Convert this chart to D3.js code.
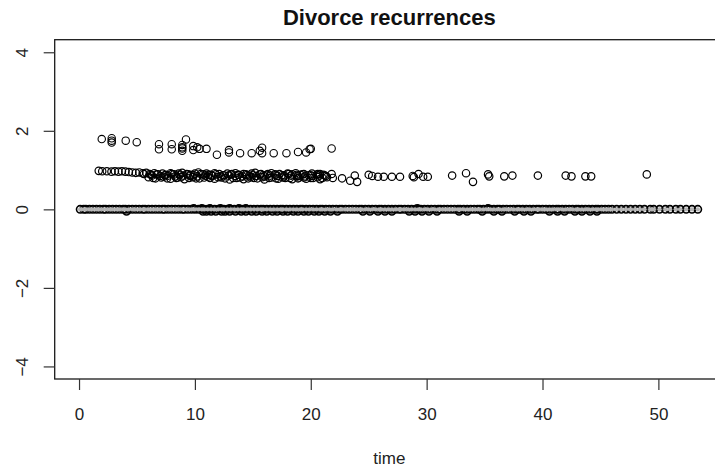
<!DOCTYPE html>
<html>
<head>
<meta charset="utf-8">
<script src="https://cdn.jsdelivr.net/npm/d3@7"></script>
<style>
  html, body { margin: 0; padding: 0; background: #fff; }
  svg { display: block; font-family: "Liberation Sans", Arial, sans-serif; }
</style>
</head>
<body>
<svg id="chart" width="715" height="467"></svg>
<script>
// ---- data ----
const chartTitle = "Divorce recurrences";
const xLabel = "time";
const xTicks = [0, 10, 20, 30, 40, 50];
const yTicks = [-4, -2, 0, 2, 4];

// events at value 0
const zeroTime = [0.1,0.4,0.6,0.9,1.2,1.5,1.8,2.1,2.3,2.6,2.9,3.2,3.5,3.8,4.0,4.3,4.6,4.9,5.2,5.5,5.7,6.0,6.3,6.6,6.9,7.2,7.4,7.7,8.0,8.3,8.6,8.9,9.1,9.4,9.7,10.0,10.3,10.6,10.8,11.1,11.4,11.7,12.0,12.3,12.5,12.8,13.1,13.4,13.7,14.0,14.2,14.5,14.8,15.1,15.4,15.7,15.9,16.2,16.5,16.8,17.1,17.4,17.6,17.9,18.2,18.5,18.8,19.1,19.3,19.6,19.9,20.2,20.5,20.8,21.0,21.3,21.6,21.9,22.2,22.5,22.7,23.0,23.3,23.6,23.9,24.2,24.4,24.7,25.0,25.3,25.6,25.9,26.1,26.4,26.7,27.0,27.3,27.6,27.8,28.1,28.4,28.7,29.0,29.3,29.5,29.8,30.1,30.4,30.7,31.0,31.2,31.5,31.8,32.1,32.4,32.7,32.9,33.2,33.5,33.8,34.1,34.4,34.6,34.9,35.2,35.5,35.8,36.1,36.3,36.6,36.9,37.2,37.5,37.8,38.0,38.3,38.6,38.9,39.2,39.5,39.7,40.0,40.3,40.6,40.9,41.2,41.4,41.7,42.0,42.3,42.6,42.9,43.1,43.4,43.7,44.0,44.3,44.6,44.8,45.1,45.4,45.7,46.0,46.4,46.8,47.2,47.6,48.0,48.4,48.8,49.3,49.6,50.1,50.6,51.0,51.5,51.9,52.4,52.9,53.4];
const zeroValue = 0;

// events just off zero
const nearTime = [4.1,9.9,10.6,10.7,11.0,11.3,11.4,11.8,12.2,12.3,12.6,13.0,13.0,13.5,13.8,14.0,14.4,14.4,14.9,15.3,15.8,16.2,16.7,17.1,17.6,18.0,18.5,18.9,19.4,19.8,20.3,20.7,21.2,21.7,22.3,24.5,25.1,25.8,26.4,27.0,28.5,29.0,29.2,29.6,30.2,30.9,32.8,33.5,34.8,35.3,35.8,36.5,37.6,38.4,39.0,40.6,41.3,41.9,42.8,43.4,44.1,44.7];
const nearValue = [-0.05,0.02,0.02,-0.05,-0.05,0.02,-0.05,-0.05,0.02,-0.05,-0.05,0.02,-0.05,-0.05,0.02,-0.05,0.02,-0.05,-0.05,-0.05,-0.05,-0.05,-0.05,-0.05,-0.05,-0.05,-0.05,-0.05,-0.05,-0.05,-0.05,-0.05,-0.05,-0.05,-0.05,-0.05,-0.05,-0.05,-0.05,-0.05,-0.05,-0.05,0.02,-0.05,-0.05,-0.05,-0.05,-0.05,-0.05,0.02,-0.05,-0.05,-0.05,-0.05,-0.05,-0.05,-0.05,-0.05,-0.05,-0.05,-0.05,-0.05];

// events near 1
const bandTime = [1.7,2.0,2.4,2.8,3.1,3.4,3.7,4.0,4.3,4.6,4.9,5.2,5.5,
  5.8,6.1,6.5,6.8,7.2,7.5,7.9,8.2,8.6,8.9,9.3,9.6,10.0,10.3,10.7,11.0,11.4,11.7,12.1,12.4,12.8,13.1,13.5,13.8,14.2,14.5,14.9,15.2,15.6,15.9,16.3,16.6,17.0,17.3,17.7,18.0,18.4,18.7,19.1,19.4,19.8,20.1,20.5,20.8,21.2,
  6.0,6.6,7.3,7.9,8.5,9.1,9.8,10.4,11.1,11.7,12.3,13.0,13.6,14.2,14.8,15.4,16.0,16.6,17.2,17.8,18.4,19.0,19.6,20.2,20.8,21.4,
  6.3,7.0,7.7,8.3,9.0,9.6,10.2,10.9,11.5,12.2,12.9,13.5,14.1,14.7,15.3,16.0,16.5,17.1,17.7,18.3,18.9,19.5,20.1,20.7,21.3,
  5.6,6.2,6.7,7.4,8.0,8.7,9.4,9.9,10.5,11.2,11.8,12.5,13.2,13.7,14.4,15.0,15.7,16.2,16.9,17.5,18.1,18.8,19.3,20.0,20.6,21.1,
  6.4,7.1,7.6,8.4,8.8,9.5,10.1,10.8,11.3,12.0,12.6,13.3,13.9,14.6,15.1,15.8,16.4,17.0,17.6,18.2,18.9,19.4,20.0,20.6,21.0,
  21.8,21.9,22.7,23.4,23.8,24.0,25.0,25.3,25.8,26.3,27.0,27.7,28.8,28.9,29.3,29.7,30.1,32.2,33.4,34.0,35.3,35.4,36.7,37.4,39.6,42.0,42.5,43.7,44.2,49.0];
const bandValue = [0.98,0.97,0.97,0.96,0.97,0.96,0.97,0.96,0.95,0.94,0.93,0.94,0.92,
  0.93,0.90,0.92,0.89,0.91,0.88,0.92,0.89,0.91,0.93,0.90,0.88,0.91,0.94,0.89,0.91,0.88,0.92,0.90,0.87,0.91,0.89,0.92,0.88,0.90,0.87,0.91,0.93,0.89,0.87,0.90,0.92,0.88,0.90,0.87,0.91,0.89,0.92,0.88,0.90,0.87,0.91,0.88,0.90,0.86,
  0.82,0.79,0.83,0.78,0.81,0.77,0.82,0.79,0.83,0.78,0.81,0.76,0.80,0.77,0.82,0.79,0.76,0.81,0.78,0.80,0.77,0.81,0.78,0.80,0.77,0.82,
  0.86,0.85,0.86,0.84,0.86,0.85,0.84,0.86,0.85,0.84,0.86,0.85,0.84,0.86,0.85,0.84,0.86,0.85,0.84,0.86,0.85,0.84,0.85,0.86,0.85,
  0.90,0.88,0.89,0.87,0.90,0.88,0.89,0.87,0.90,0.88,0.89,0.87,0.90,0.88,0.89,0.87,0.90,0.88,0.89,0.87,0.90,0.88,0.89,0.87,0.90,0.88,
  0.80,0.81,0.79,0.80,0.82,0.80,0.79,0.81,0.80,0.82,0.79,0.80,0.81,0.79,0.80,0.82,0.80,0.79,0.81,0.80,0.79,0.81,0.80,0.82,0.80,
  0.90,0.80,0.79,0.73,0.86,0.70,0.88,0.85,0.83,0.83,0.83,0.83,0.85,0.82,0.90,0.83,0.83,0.86,0.92,0.70,0.89,0.84,0.84,0.86,0.86,0.86,0.84,0.84,0.84,0.89];

// events near 1.5
const upperTime = [1.96,2.82,2.82,2.82,4.03,4.98,6.9,6.9,8.0,8.0,8.91,8.91,8.91,8.91,9.23,9.86,9.86,10.2,10.4,11.0,11.9,12.94,12.94,13.9,14.9,15.6,15.8,15.8,16.8,17.9,18.9,19.6,19.9,20.0,21.8];
const upperValue = [1.79,1.81,1.75,1.70,1.75,1.71,1.66,1.53,1.66,1.53,1.64,1.58,1.55,1.49,1.78,1.61,1.51,1.58,1.54,1.54,1.39,1.51,1.45,1.43,1.43,1.49,1.57,1.43,1.43,1.43,1.46,1.45,1.53,1.54,1.55];

// ---- layout ----
const plot = { left: 54.7, right: 727.9, top: 39.7, bottom: 379 };
const svg = d3.select("#chart");

const x = d3.scaleLinear().domain([-2.1, 56.0]).range([plot.left, plot.right]);
const y = d3.scaleLinear().domain([-4.32, 4.32]).range([plot.bottom, plot.top]);

const R = 3.7;

const zeroPts = zeroTime.map(t => ({ t, v: zeroValue }));
const nearPts = nearTime.map((t, i) => ({ t, v: nearValue[i] }));
const allZero = nearPts.concat(zeroPts);
const bandPts = bandTime.map((t, i) => ({ t, v: bandValue[i] }));
const upperPts = upperTime.map((t, i) => ({ t, v: upperValue[i] }));

const gPts = svg.append("g");

// zero events: outline pass then fill pass
gPts.append("g").selectAll("circle").data(allZero).join("circle")
  .attr("cx", d => x(d.t)).attr("cy", d => y(d.v)).attr("r", R)
  .attr("fill", "none").attr("stroke", "#000").attr("stroke-width", 1.6);
gPts.append("g").selectAll("circle").data(zeroPts).join("circle")
  .attr("cx", d => x(d.t)).attr("cy", d => y(d.v)).attr("r", R - 1.5)
  .attr("fill", "#b3b3b3").attr("stroke", "none");

gPts.append("g").selectAll("circle").data(bandPts).join("circle")
  .attr("cx", d => x(d.t)).attr("cy", d => y(d.v)).attr("r", R)
  .attr("fill", "none").attr("stroke", "#000").attr("stroke-width", 1.2);

gPts.append("g").selectAll("circle").data(upperPts).join("circle")
  .attr("cx", d => x(d.t)).attr("cy", d => y(d.v)).attr("r", R)
  .attr("fill", "none").attr("stroke", "#000").attr("stroke-width", 1.1);

// box
svg.append("rect")
  .attr("x", plot.left).attr("y", plot.top)
  .attr("width", plot.right - plot.left).attr("height", plot.bottom - plot.top)
  .attr("fill", "none").attr("stroke", "#1a1a1a").attr("stroke-width", 1.3);

// axes
const tickLen = 11;
const xAxis = svg.append("g").attr("transform", `translate(0,${plot.bottom})`)
  .call(d3.axisBottom(x).tickValues(xTicks).tickSize(tickLen).tickSizeOuter(0).tickFormat(d3.format("d")));
xAxis.select(".domain").remove();
xAxis.selectAll(".tick line").attr("stroke", "#333").attr("stroke-width", 1.2);
xAxis.selectAll(".tick text")
  .attr("y", 0).attr("dy", null)
  .attr("transform", "translate(0,41)")
  .attr("font-size", 17).attr("fill", "#222")
  .attr("font-family", "'Liberation Sans', Arial, sans-serif");

const yAxis = svg.append("g").attr("transform", `translate(${plot.left},0)`)
  .call(d3.axisLeft(y).tickValues(yTicks).tickSize(tickLen).tickSizeOuter(0).tickFormat(d3.format("d")));
yAxis.select(".domain").remove();
yAxis.selectAll(".tick line").attr("stroke", "#333").attr("stroke-width", 1.2);
yAxis.selectAll(".tick text")
  .attr("x", 0).attr("dy", null).attr("y", 0)
  .attr("text-anchor", "middle")
  .attr("transform", `translate(${28 - plot.left},0) rotate(-90)`)
  .attr("font-size", 17).attr("fill", "#222")
  .attr("font-family", "'Liberation Sans', Arial, sans-serif");

// title and x label
svg.append("text")
  .attr("x", (plot.left + plot.right) / 2 - 2).attr("y", 25)
  .attr("text-anchor", "middle")
  .attr("font-size", 22).attr("font-weight", "bold").attr("fill", "#111")
  .text(chartTitle);

svg.append("text")
  .attr("x", (plot.left + plot.right) / 2 - 2).attr("y", 464)
  .attr("text-anchor", "middle")
  .attr("font-size", 17).attr("fill", "#222")
  .text(xLabel);
</script>
</body>
</html>
